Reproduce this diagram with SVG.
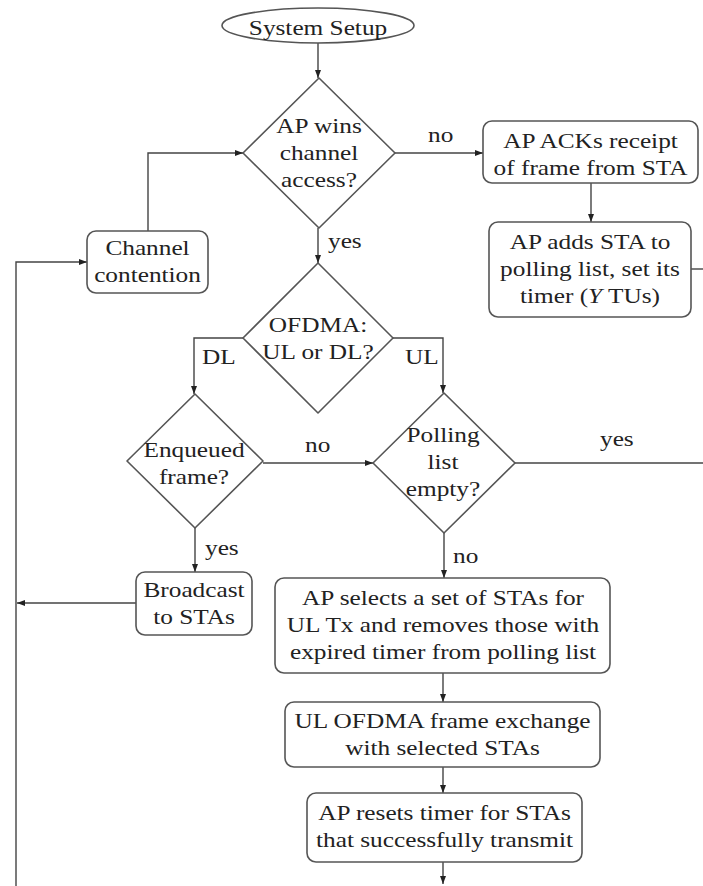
<svg xmlns="http://www.w3.org/2000/svg" width="703" height="886" viewBox="0 0 703 886" font-family="Liberation Serif">
<style>
  .box { fill: #fff; stroke: #555; stroke-width: 1.6; }
  .dia { fill: #fff; stroke: #555; stroke-width: 1.6; stroke-linejoin: round; }
  .con { fill: none; stroke: #444; stroke-width: 1.4; }
  .arr { marker-end: url(#ah); }
  text { font-family: Liberation Serif, serif; font-size: 22px; fill: #222; text-anchor: middle; }
  .lab { text-anchor: start; }
</style>
<defs>
  <marker id="ah" markerUnits="userSpaceOnUse" markerWidth="9" markerHeight="7" refX="8" refY="3" orient="auto">
    <path d="M0,0 L8,3 L0,6 z" fill="#222"/>
  </marker>
</defs>
<rect width="703" height="886" fill="#fff"/>

<g id="connectors">
  <path class="con arr" d="M318,43 V78"/>
  <path class="con arr" d="M395,153 H483"/>
  <path class="con arr" d="M591,183 V222"/>
  <path class="con" d="M691,269 H703"/>
  <path class="con arr" d="M148,231 V153 H243"/>
  <path class="con arr" d="M16,886 V262 H87"/>
  <path class="con arr" d="M318,228 V263"/>
  <path class="con arr" d="M243,338 H194 V394"/>
  <path class="con arr" d="M393,338 H443 V393"/>
  <path class="con arr" d="M263,463 H373"/>
  <path class="con" d="M515,463 H703"/>
  <path class="con arr" d="M444,533 V578"/>
  <path class="con arr" d="M195,528 V572"/>
  <path class="con arr" d="M136,603 H17"/>
  <path class="con arr" d="M443,673 V702"/>
  <path class="con arr" d="M443,767 V793"/>
  <path class="con arr" d="M443,862 V884"/>
  <text transform="translate(428,142) scale(1.15,1)" class="lab">no</text>
  <text transform="translate(328,248) scale(1.15,1)" class="lab">yes</text>
  <text transform="translate(202,364) scale(1.15,1)" class="lab">DL</text>
  <text transform="translate(405,364) scale(1.15,1)" class="lab">UL</text>
  <text transform="translate(305,452) scale(1.15,1)" class="lab">no</text>
  <text transform="translate(600,446) scale(1.15,1)" class="lab">yes</text>
  <text transform="translate(205,555) scale(1.15,1)" class="lab">yes</text>
  <text transform="translate(453,563) scale(1.15,1)" class="lab">no</text>
</g>

<g id="setup">
  <ellipse class="box" cx="318" cy="25.5" rx="96" ry="17.5"/>
  <text transform="translate(318,35) scale(1.15,1)">System Setup</text>
</g>

<g id="d-access">
  <polygon class="dia" points="319,78 395,153 319,228 243,153"/>
  <text transform="translate(319,133) scale(1.15,1)">AP wins</text>
  <text transform="translate(319,160) scale(1.15,1)">channel</text>
  <text transform="translate(319,187) scale(1.15,1)">access?</text>
</g>

<g id="ack">
  <rect class="box" x="483" y="121" width="215" height="62" rx="9"/>
  <text transform="translate(590.5,148) scale(1.15,1)">AP ACKs receipt</text>
  <text transform="translate(590.5,175) scale(1.15,1)">of frame from STA</text>
</g>

<g id="adds">
  <rect class="box" x="489" y="222" width="202" height="95" rx="9"/>
  <text transform="translate(590,249) scale(1.15,1)">AP adds STA to</text>
  <text transform="translate(590,276) scale(1.15,1)">polling list, set its</text>
  <text transform="translate(590,303) scale(1.15,1)">timer (<tspan font-style="italic">Y</tspan> TUs)</text>
</g>

<g id="contention">
  <rect class="box" x="87" y="231" width="121" height="62" rx="9"/>
  <text transform="translate(147.5,255) scale(1.15,1)">Channel</text>
  <text transform="translate(147.5,282) scale(1.15,1)">contention</text>
</g>

<g id="d-ofdma">
  <polygon class="dia" points="318,263 393,338 318,413 243,338"/>
  <text transform="translate(318,332) scale(1.15,1)">OFDMA:</text>
  <text transform="translate(318,359) scale(1.15,1)">UL or DL?</text>
</g>

<g id="d-enqueued">
  <polygon class="dia" points="195,394 263,461 195,528 127,461"/>
  <text transform="translate(194,457) scale(1.15,1)">Enqueued</text>
  <text transform="translate(194,484) scale(1.15,1)">frame?</text>
</g>

<g id="d-polling">
  <polygon class="dia" points="444,393 515,463 444,533 373,463"/>
  <text transform="translate(443,442) scale(1.15,1)">Polling</text>
  <text transform="translate(443,469) scale(1.15,1)">list</text>
  <text transform="translate(443,496) scale(1.15,1)">empty?</text>
</g>

<g id="broadcast">
  <rect class="box" x="136" y="572" width="116" height="63" rx="9"/>
  <text transform="translate(194,597) scale(1.15,1)">Broadcast</text>
  <text transform="translate(194,624) scale(1.15,1)">to STAs</text>
</g>

<g id="selects">
  <rect class="box" x="275" y="578" width="335" height="95" rx="9"/>
  <text transform="translate(443,605) scale(1.15,1)">AP selects a set of STAs for</text>
  <text transform="translate(443,632) scale(1.15,1)">UL Tx and removes those with</text>
  <text transform="translate(443,659) scale(1.15,1)">expired timer from polling list</text>
</g>

<g id="exchange">
  <rect class="box" x="285" y="702" width="315" height="65" rx="9"/>
  <text transform="translate(442.5,728) scale(1.15,1)">UL OFDMA frame exchange</text>
  <text transform="translate(442.5,755) scale(1.15,1)">with selected STAs</text>
</g>

<g id="resets">
  <rect class="box" x="307" y="793" width="275" height="69" rx="9"/>
  <text transform="translate(444.5,820) scale(1.15,1)">AP resets timer for STAs</text>
  <text transform="translate(444.5,847) scale(1.15,1)">that successfully transmit</text>
</g>
</svg>
